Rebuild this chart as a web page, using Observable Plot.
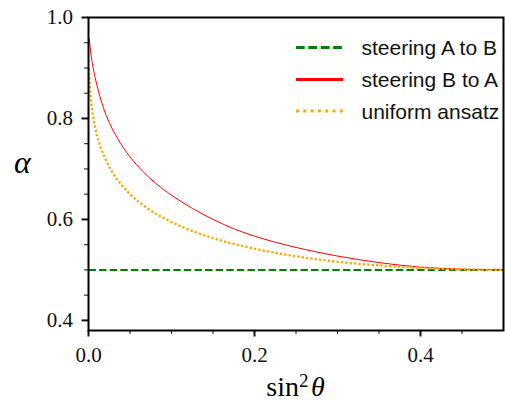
<!DOCTYPE html>
<html><head><meta charset="utf-8">
<script src="https://cdn.jsdelivr.net/npm/d3@7"></script>
<script src="https://cdn.jsdelivr.net/npm/@observablehq/plot@0.6"></script>
<style>
html,body{margin:0;padding:0;background:#fff;}
#wrap{position:relative;width:505px;height:402px;overflow:hidden;}
#wrap svg{display:block;}
.ylab{position:absolute;left:14px;top:146px;font-family:"Liberation Serif",serif;font-style:italic;font-size:32px;line-height:1;}
.xlab{position:absolute;left:0;width:591px;top:373px;text-align:center;font-family:"Liberation Serif",serif;font-size:28px;line-height:1;}
.xlab sup{font-size:0.68em;vertical-align:0.45em;line-height:0;}
#legend{position:absolute;left:0;top:0;pointer-events:none;}
</style></head><body>
<div id="wrap"></div>
<script>
// series: steering B to A (red)
const redX = [0.001, 0.003, 0.005, 0.008, 0.012, 0.018, 0.025, 0.035, 0.050, 0.065, 0.080, 0.100, 0.125, 0.150, 0.175, 0.200, 0.250, 0.300, 0.350, 0.400, 0.450, 0.500];
const redY = [0.957, 0.927, 0.906, 0.881, 0.854, 0.821, 0.792, 0.7605, 0.724, 0.696, 0.673, 0.648, 0.622, 0.600, 0.5815, 0.567, 0.5445, 0.5275, 0.5145, 0.5055, 0.5015, 0.500];
// series: uniform ansatz (orange)
const orangeX = [0.0006, 0.001, 0.002, 0.004, 0.007, 0.010, 0.015, 0.020, 0.030, 0.040, 0.050, 0.070, 0.100, 0.130, 0.160, 0.200, 0.250, 0.300, 0.350, 0.400, 0.450, 0.500];
const orangeY = [0.899, 0.882, 0.855, 0.821, 0.790, 0.768, 0.741, 0.721, 0.690, 0.668, 0.650, 0.623, 0.595, 0.574, 0.558, 0.542, 0.527, 0.516, 0.509, 0.504, 0.501, 0.500];
// series: steering A to B (green)
const greenX = [0, 0.5];
const greenY = [0.5, 0.5];

const seriesNames = ["steering A to B", "steering B to A", "uniform ansatz"];
const seriesColors = ["#008000", "#ff0000", "#ffa500"];

const xMajor = [0, 0.2, 0.4];
const xMinor = [0.05, 0.1, 0.15, 0.25, 0.3, 0.35, 0.45];
const yMajor = [0.4, 0.6, 0.8, 1.0];
const yMinor = [0.45, 0.5, 0.55, 0.65, 0.7, 0.75, 0.85, 0.9, 0.95];

const toRows = (xs, ys) => xs.map((x, i) => ({x, y: ys[i]}));
const red = toRows(redX, redY);
const orange = toRows(orangeX, orangeY);
const green = toRows(greenX, greenY);

const fmt = d3.format(".1f");
const tickFont = "Liberation Serif";

const plot = Plot.plot({
  width: 505, height: 402,
  marginLeft: 88, marginRight: 2, marginTop: 17, marginBottom: 72,
  x: {domain: [0, 0.5]},
  y: {domain: [0.38, 1.0]},
  style: {fontFamily: tickFont, background: "white", color: "#111"},
  marks: [
    Plot.axisX(xMinor, {tickSize: 4, strokeWidth: 1, tickFormat: () => "", label: null}),
    Plot.axisX(xMajor, {tickSize: 6.5, strokeWidth: 2, tickPadding: 10, tickFormat: fmt, fontSize: 21, fontFamily: tickFont, label: null}),
    Plot.axisY(yMinor, {tickSize: 4, strokeWidth: 1, tickFormat: () => "", label: null}),
    Plot.axisY(yMajor, {tickSize: 6.5, strokeWidth: 2, tickPadding: 9, tickFormat: fmt, fontSize: 21, fontFamily: tickFont, label: null}),
    Plot.line(green, {x: "x", y: "y", stroke: seriesColors[0], strokeWidth: 2, strokeDasharray: "7.4,3.2", strokeLinecap: "butt"}),
    Plot.line(red, {x: "x", y: "y", stroke: seriesColors[1], strokeWidth: 1, curve: "monotone-x"}),
    Plot.line(orange, {x: "x", y: "y", stroke: seriesColors[2], strokeWidth: 2.3, strokeDasharray: "2.3,2.1", strokeLinecap: "butt", curve: "monotone-x"}),
    Plot.frame({stroke: "black", strokeWidth: 2})
  ]
});

const wrap = document.getElementById("wrap");
wrap.appendChild(plot);

const ylab = document.createElement("div");
ylab.className = "ylab";
ylab.textContent = "α";
wrap.appendChild(ylab);

const xlab = document.createElement("div");
xlab.className = "xlab";
xlab.innerHTML = "sin<sup>2</sup>&#8202;<i>θ</i>";
wrap.appendChild(xlab);

// legend overlay
const legendStyles = [
  {w: 3, dash: "8.7,3.7"},
  {w: 3.2, dash: null},
  {w: 3, dash: "3,4.3"}
];
const rowsY = [47.5, 79.5, 111];
const leg = d3.select(wrap).append("svg").attr("id", "legend").attr("width", 505).attr("height", 402);
seriesNames.forEach((name, i) => {
  const g = leg.append("g");
  const ln = g.append("line").attr("x1", 296).attr("x2", 343).attr("y1", rowsY[i]).attr("y2", rowsY[i])
    .attr("stroke", seriesColors[i]).attr("stroke-width", legendStyles[i].w).attr("stroke-linecap", "butt");
  if (legendStyles[i].dash) ln.attr("stroke-dasharray", legendStyles[i].dash);
  g.append("text").attr("x", 361.5).attr("y", rowsY[i] + 7.5)
    .attr("font-family", "Liberation Sans").attr("font-size", 21).attr("fill", "#111").text(name);
});
</script>
</body></html>
